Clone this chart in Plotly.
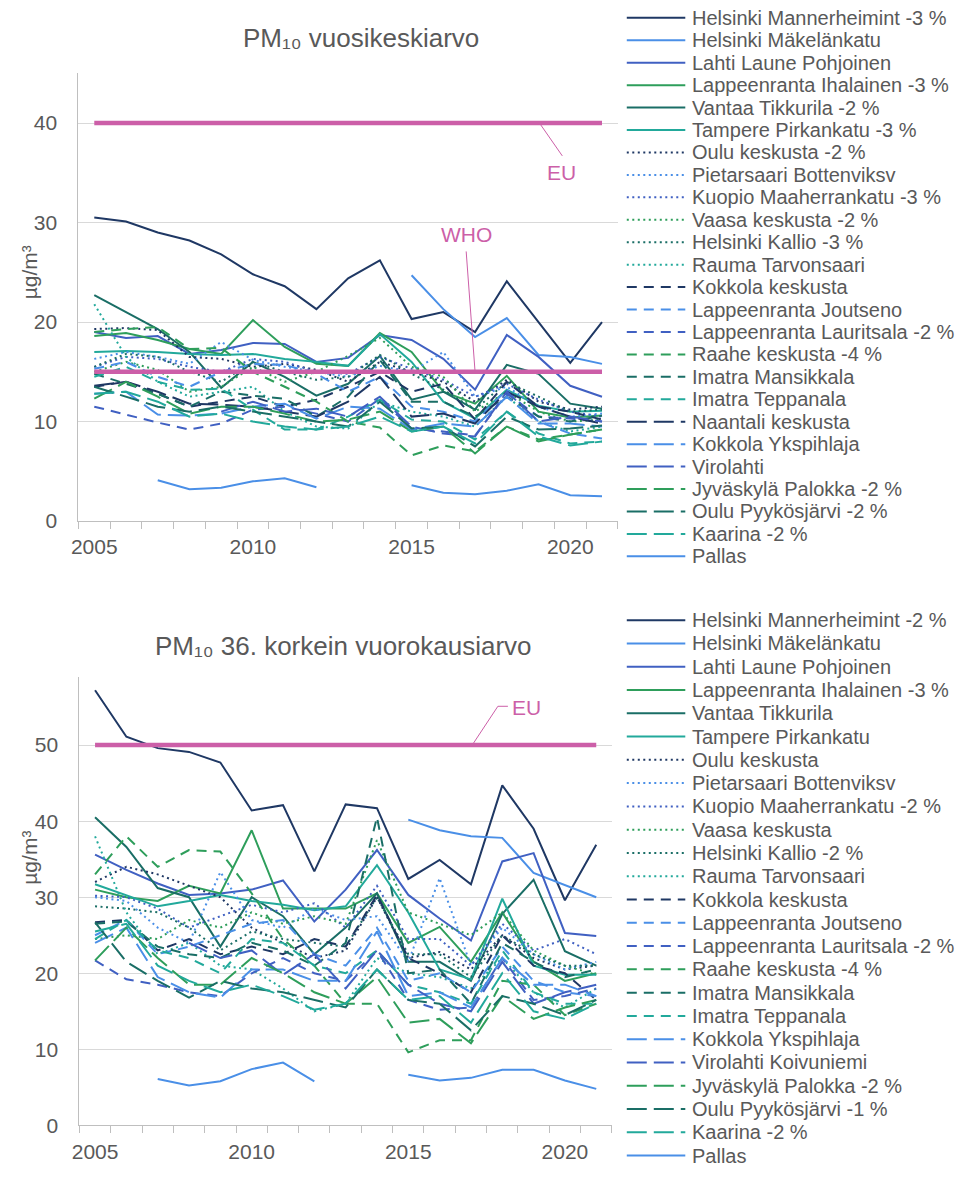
import plotly.graph_objects as go

W, H = 957, 1178
years = list(range(2005, 2022))
N = None

# ---------------- PM10 annual mean (top chart) ----------------
a_hel_mannerheimint = [30.5, 30.1, 29.0, 28.2, 26.8, 24.8, 23.6, 21.3, 24.4, 26.2, 20.3, 21.0, 19.0, 24.1, 20.0, 15.9, 20.0]
a_hel_makelankatu = [N, N, N, N, N, N, N, N, N, N, 24.7, 21.3, 18.5, 20.4, 16.7, 16.5, 15.8]
a_lahti = [19.0, 18.4, 18.6, 16.8, 17.2, 17.9, 17.8, 16.0, 16.4, 18.7, 18.2, 16.3, 13.2, 18.7, 16.5, 13.6, 12.5]
a_lpr_ihalainen = [18.6, 18.9, 18.2, 17.3, 16.8, 20.2, 17.5, 15.8, 15.6, 18.9, 17.0, 13.0, 11.8, 14.6, 11.0, 10.4, 10.6]
a_vantaa = [22.7, 21.0, 19.3, 17.0, 13.4, 16.0, 14.5, 12.6, 13.8, 16.6, 12.2, 13.0, 11.2, 15.7, 14.8, 11.8, 11.3]
a_tampere = [17.0, 17.1, 17.0, 16.8, 16.7, 16.8, 16.3, 16.0, 15.6, 18.8, 16.0, 12.0, 10.3, 13.2, 11.6, 11.0, 11.1]
a_oulu = [19.3, 19.4, 19.2, 16.5, 16.3, 15.5, 15.8, 15.2, 14.0, 16.0, 15.0, 14.0, 12.0, 14.2, 12.0, 11.2, 11.5]
a_pietarsaari = [16.3, 17.0, 16.5, 15.8, 18.0, 16.2, 15.5, 15.0, 14.5, 15.6, 15.0, 17.0, 12.5, 13.5, 11.5, 10.5, 10.8]
a_kuopio = [15.5, 16.5, 16.3, 15.5, 15.0, 16.3, 16.0, 15.0, 14.8, 16.5, 15.3, 14.2, 12.5, 13.8, 12.2, 11.0, 10.5]
a_vaasa = [15.0, 16.0, 15.2, 13.0, 13.5, 15.5, 14.0, 15.0, 16.6, 18.4, 15.5, 14.5, 11.0, 13.0, 11.0, 10.0, 10.2]
a_hel_kallio = [15.5, 16.8, 16.5, 15.0, 14.0, 16.0, 15.0, 14.2, 14.5, 16.7, 14.8, 13.2, 11.2, 14.0, 12.5, 11.0, 11.2]
a_rauma = [21.8, 16.5, 14.0, 12.5, 13.0, 13.5, 11.0, 9.5, 9.3, 12.0, 11.0, 10.5, 9.5, 12.5, 10.0, 9.0, 9.5]
a_kokkola = [13.5, 14.0, 12.8, 11.5, 12.0, 12.5, 11.5, 12.2, 13.5, 15.0, 13.0, 13.8, 10.2, 14.0, 11.5, 11.0, 10.2]
a_lpr_joutseno = [15.3, 16.0, 14.5, 13.5, 15.0, 15.8, 15.7, 14.8, 13.0, 14.5, 11.5, 11.0, 10.0, 13.2, 10.0, 8.8, 8.3]
a_lpr_lauritsala = [11.5, 10.7, 9.9, 9.2, 9.8, 11.2, 11.5, 10.8, 10.0, 12.3, 9.3, 9.0, 8.6, 12.8, 10.5, 10.3, 10.0]
a_raahe = [19.0, 19.3, 19.5, 17.3, 17.4, 15.0, 13.5, 12.0, 10.0, 9.4, 6.6, 7.6, 7.0, 9.5, 8.2, 8.7, 9.2]
a_imatra_mansikkala = [14.8, 13.8, 12.8, 11.5, 13.0, 12.6, 12.3, 10.5, 12.5, 16.2, 12.0, 12.0, 10.5, 12.5, 10.5, 10.0, 10.6]
a_imatra_teppanala = [14.5, 15.5, 14.0, 13.2, 13.3, 11.2, 9.2, 9.2, 10.5, 12.2, 10.2, 10.0, 8.2, 11.0, 8.8, 7.8, 8.0]
a_naantali = [13.6, 14.0, 13.0, 11.8, 11.7, 11.5, 11.0, 10.5, 12.0, 14.5, 10.5, 10.8, 9.8, 13.0, 11.5, 10.5, 9.8]
a_kokkola_ykspihlaja = [12.8, 13.0, 10.7, 10.6, 10.8, 11.5, 11.8, 10.3, 11.5, 11.3, 9.2, 9.8, 9.5, 12.5, 9.8, 9.8, 9.5]
a_virolahti = [N, N, N, N, 11.0, 12.0, 11.0, 11.3, 10.5, 12.5, 9.5, 8.8, 8.5, 13.0, 10.0, 10.5, 10.0]
a_jyvaskyla = [12.3, 14.0, 12.5, 10.8, 11.5, 11.5, 10.8, 10.0, 10.2, 11.0, 9.0, 9.5, 6.8, 9.5, 8.0, 8.7, 9.2]
a_oulu_pyykosjarvi = [13.5, 12.5, 11.5, 11.0, 11.5, 11.0, 10.5, 10.0, 9.5, 12.0, 9.3, 9.5, 7.5, 10.5, 9.2, 9.3, 9.6]
a_kaarina = [12.8, 13.0, 12.0, 10.5, 10.8, 10.0, 9.5, 9.2, 9.5, 10.5, 9.0, 9.5, 7.8, 11.0, 8.5, 7.6, 8.0]
a_pallas = [N, N, 4.1, 3.2, 3.35, 4.0, 4.3, 3.4, N, N, 3.6, 2.85, 2.7, 3.05, 3.7, 2.6, 2.5]

a_names = ["Helsinki Mannerheimint -3 %", "Helsinki Mäkelänkatu", "Lahti Laune Pohjoinen",
           "Lappeenranta Ihalainen -3 %", "Vantaa Tikkurila -2 %", "Tampere Pirkankatu -3 %",
           "Oulu keskusta -2 %", "Pietarsaari Bottenviksv", "Kuopio Maaherrankatu -3 %",
           "Vaasa keskusta -2 %", "Helsinki Kallio -3 %", "Rauma Tarvonsaari",
           "Kokkola keskusta", "Lappeenranta Joutseno", "Lappeenranta Lauritsala -2 %",
           "Raahe keskusta -4 %", "Imatra Mansikkala", "Imatra Teppanala",
           "Naantali keskusta", "Kokkola Ykspihlaja", "Virolahti",
           "Jyväskylä Palokka -2 %", "Oulu Pyykösjärvi -2 %", "Kaarina -2 %", "Pallas"]
a_series = [a_hel_mannerheimint, a_hel_makelankatu, a_lahti, a_lpr_ihalainen, a_vantaa, a_tampere,
            a_oulu, a_pietarsaari, a_kuopio, a_vaasa, a_hel_kallio, a_rauma,
            a_kokkola, a_lpr_joutseno, a_lpr_lauritsala, a_raahe, a_imatra_mansikkala, a_imatra_teppanala,
            a_naantali, a_kokkola_ykspihlaja, a_virolahti, a_jyvaskyla, a_oulu_pyykosjarvi, a_kaarina,
            a_pallas]
a_eu_limit = 40
a_who_guideline = 15

# ---------------- PM10 36th highest daily value (bottom chart) ----------------
d_hel_mannerheimint = [57.2, 51.1, 49.6, 49.1, 47.7, 41.4, 42.1, 33.4, 42.2, 41.7, 32.4, 34.9, 31.7, 44.7, 39.0, 29.6, 36.9]
d_hel_makelankatu = [N, N, N, N, N, N, N, N, N, N, 40.2, 38.8, 38.0, 37.8, 33.2, 31.6, 30.0]
d_lahti = [35.6, 33.6, 31.8, 30.3, 30.5, 31.0, 32.2, 26.8, 31.0, 36.2, 30.3, 27.2, 24.3, 34.7, 35.8, 25.3, 24.9]
d_lpr_ihalainen = [31.0, 30.0, 29.5, 31.5, 30.5, 38.8, 28.5, 28.5, 28.5, 30.5, 24.0, 26.1, 21.5, 28.0, 21.5, 19.0, 20.0]
d_vantaa = [40.5, 36.6, 31.2, 30.0, 23.5, 30.0, 27.5, 22.5, 26.0, 30.5, 21.5, 21.5, 19.0, 27.8, 32.3, 22.9, 21.0]
d_tampere = [31.7, 30.2, 28.8, 29.5, 30.3, 29.5, 29.0, 28.3, 28.8, 34.2, 28.0, 20.5, 19.2, 29.8, 21.0, 19.8, 19.8]
d_oulu = [32.0, 34.0, 33.0, 31.5, 30.0, 26.0, 24.0, 22.0, 23.0, 30.0, 22.0, 22.8, 20.5, 25.0, 22.0, 20.5, 21.0]
d_pietarsaari = [30.0, 29.5, 26.0, 24.0, 33.3, 27.0, 26.0, 28.5, 27.0, 27.5, 21.5, 32.5, 21.0, 26.0, 22.5, 20.5, 21.5]
d_kuopio = [30.2, 30.0, 28.5, 26.0, 27.5, 29.0, 28.0, 29.2, 26.0, 31.5, 24.5, 24.5, 21.0, 26.5, 23.0, 24.5, 22.5]
d_vaasa = [24.5, 25.0, 24.5, 27.0, 26.0, 28.0, 26.5, 27.5, 26.5, 37.5, 28.0, 26.5, 25.0, 28.0, 23.0, 21.0, 19.8]
d_hel_kallio = [28.8, 28.5, 28.0, 26.0, 23.0, 25.5, 24.5, 24.0, 23.5, 30.0, 22.5, 22.5, 19.5, 25.0, 22.5, 21.0, 21.0]
d_rauma = [38.0, 28.0, 22.5, 24.0, 21.0, 20.5, 18.0, 15.0, 16.0, 22.0, 20.0, 19.5, 18.0, 22.0, 17.5, 15.5, 18.0]
d_kokkola = [26.7, 27.0, 23.0, 24.5, 22.5, 23.5, 22.5, 24.5, 23.5, 30.3, 22.0, 20.0, 17.5, 25.0, 21.0, 20.0, 16.5]
d_lpr_joutseno = [25.0, 27.0, 22.5, 23.5, 25.0, 26.5, 27.0, 22.5, 21.0, 26.0, 19.0, 20.0, 17.5, 23.5, 19.0, 17.5, 17.0]
d_lpr_lauritsala = [21.7, 19.2, 18.5, 17.5, 17.0, 20.0, 22.0, 20.0, 19.0, 23.0, 16.5, 15.2, 15.5, 22.0, 16.5, 17.0, 18.0]
d_raahe = [33.0, 38.0, 34.0, 36.2, 36.0, 30.5, 24.5, 21.0, 16.0, 16.0, 9.6, 11.2, 11.2, 19.0, 18.5, 14.5, 16.0]
d_imatra_mansikkala = [26.5, 26.8, 23.5, 22.5, 22.0, 24.0, 23.0, 21.0, 24.0, 40.5, 20.0, 20.5, 16.0, 24.0, 21.5, 19.5, 20.5]
d_imatra_teppanala = [24.5, 27.0, 23.0, 22.0, 20.0, 24.5, 24.0, 21.0, 20.0, 23.0, 18.5, 17.5, 16.0, 23.0, 17.5, 16.0, 16.0]
d_kokkola_ykspihlaja = [24.0, 26.0, 19.5, 17.5, 16.8, 20.5, 20.5, 19.0, 19.0, 25.5, 17.0, 17.5, 15.5, 22.0, 18.5, 18.5, 17.0]
d_virolahti = [N, N, N, 24.0, 22.0, 23.0, 19.8, 22.5, 18.0, 23.0, 18.5, 16.0, 15.0, 21.5, 16.0, 17.5, 18.5]
d_jyvaskyla = [21.7, 26.0, 22.0, 18.5, 18.5, 22.0, 20.0, 17.5, 16.0, 19.5, 13.5, 14.0, 10.8, 17.0, 14.0, 15.5, 16.5]
d_oulu_pyykosjarvi = [26.7, 21.5, 19.0, 16.8, 19.0, 18.0, 17.5, 16.5, 15.5, 20.5, 16.5, 16.0, 12.5, 17.0, 16.0, 14.5, 16.5]
d_kaarina = [25.5, 26.5, 21.0, 19.0, 17.5, 18.5, 17.0, 15.2, 16.0, 20.5, 16.5, 17.0, 13.5, 20.0, 15.0, 14.0, 16.0]
d_pallas = [N, N, 6.1, 5.25, 5.8, 7.4, 8.25, 5.8, N, N, 6.65, 5.9, 6.25, 7.3, 7.3, 5.9, 4.8]

d_names = ["Helsinki Mannerheimint -2 %", "Helsinki Mäkelänkatu", "Lahti Laune Pohjoinen",
           "Lappeenranta Ihalainen -3 %", "Vantaa Tikkurila", "Tampere Pirkankatu",
           "Oulu keskusta", "Pietarsaari Bottenviksv", "Kuopio Maaherrankatu -2 %",
           "Vaasa keskusta", "Helsinki Kallio -2 %", "Rauma Tarvonsaari",
           "Kokkola keskusta", "Lappeenranta Joutseno", "Lappeenranta Lauritsala -2 %",
           "Raahe keskusta -4 %", "Imatra Mansikkala", "Imatra Teppanala",
           "Kokkola Ykspihlaja", "Virolahti Koivuniemi", "Jyväskylä Palokka -2 %",
           "Oulu Pyykösjärvi -1 %", "Kaarina -2 %", "Pallas"]
d_series = [d_hel_mannerheimint, d_hel_makelankatu, d_lahti, d_lpr_ihalainen, d_vantaa, d_tampere,
            d_oulu, d_pietarsaari, d_kuopio, d_vaasa, d_hel_kallio, d_rauma,
            d_kokkola, d_lpr_joutseno, d_lpr_lauritsala, d_raahe, d_imatra_mansikkala, d_imatra_teppanala,
            d_kokkola_ykspihlaja, d_virolahti, d_jyvaskyla, d_oulu_pyykosjarvi, d_kaarina,
            d_pallas]
d_eu_limit = 50

# ---------------- styles ----------------
NAVY, LBLUE, INDIGO, GREEN, DTEAL, TEAL = "#1F3864", "#4A8FE7", "#4060C2", "#2E9E5B", "#1A6E66", "#22A99B"
PINK = "#CC5FA8"
GRAY = "#595959"
FONT = "Liberation Sans, Arial, sans-serif"
DASH = {"solid": "solid", "dot": "2px,3.5px", "dash": "10px,7px", "long": "20px,7px"}
six = [NAVY, LBLUE, INDIGO, GREEN, DTEAL, TEAL]
a_styles = ([(c, "solid") for c in six] + [(c, "dot") for c in six] + [(c, "dash") for c in six]
            + [(c, "long") for c in six] + [(LBLUE, "solid")])
d_styles = ([(c, "solid") for c in six] + [(c, "dot") for c in six] + [(c, "dash") for c in six]
            + [(c, "long") for c in six[1:]] + [(LBLUE, "solid")])

fig = go.Figure()

def add_chart(series, names, styles, xa, ya):
    for vals, name, (col, dk) in zip(series, names, styles):
        fig.add_trace(go.Scatter(x=years, y=vals, name=name, mode="lines",
                                 line=dict(color=col, width=2, dash=DASH[dk]),
                                 xaxis=xa, yaxis=ya, showlegend=False))

add_chart(a_series, a_names, a_styles, "x", "y")
add_chart(d_series, d_names, d_styles, "x2", "y2")

# limit lines
for lim, xa, ya, nm in [(a_eu_limit, "x", "y", "EU"), (a_who_guideline, "x", "y", "WHO"),
                        (d_eu_limit, "x2", "y2", "EU")]:
    fig.add_trace(go.Scatter(x=years, y=[lim] * len(years), name=nm, mode="lines",
                             line=dict(color=PINK, width=4.5), xaxis=xa, yaxis=ya, showlegend=False))

def px_x(p):
    return p / W

def px_y(p):
    return 1 - p / H

shapes = []
annotations = []

# manual legends (sample line + text)
def add_legend(names, styles, y0, step):
    for i, (name, (col, dk)) in enumerate(zip(names, styles)):
        yy = px_y(y0 + i * step)
        shapes.append(dict(type="line", xref="paper", yref="paper", x0=px_x(624), x1=px_x(683),
                           y0=yy, y1=yy, line=dict(color=col, width=2, dash=DASH[dk])))
        annotations.append(dict(text=name, xref="paper", yref="paper", x=px_x(688), y=yy,
                                xanchor="left", yanchor="middle", showarrow=False,
                                font=dict(size=20, color=GRAY, family=FONT)))

add_legend(a_names, a_styles, 18, 22.65)
add_legend(d_names, d_styles, 626, 23.5)

# titles
annotations.append(dict(text="PM₁₀ vuosikeskiarvo", xref="paper", yref="paper",
                        x=px_x(356), y=px_y(38), xanchor="center", yanchor="middle", showarrow=False,
                        font=dict(size=26, color=GRAY, family=FONT)))
annotations.append(dict(text="PM₁₀ 36. korkein vuorokausiarvo", xref="paper", yref="paper",
                        x=px_x(338), y=px_y(652), xanchor="center", yanchor="middle", showarrow=False,
                        font=dict(size=26, color=GRAY, family=FONT)))
# y axis titles
for yc in (275, 866):
    annotations.append(dict(text="µg/m³", xref="paper", yref="paper", x=px_x(22), y=px_y(yc),
                            xanchor="center", yanchor="middle", textangle=-90, showarrow=False,
                            font=dict(size=21, color=GRAY, family=FONT)))

# limit labels with leader lines
annotations.append(dict(text="EU", xref="x", yref="y", x=2019.72, y=35.0, showarrow=False,
                        xanchor="center", yanchor="middle", font=dict(size=21, color=PINK, family=FONT)))
shapes.append(dict(type="line", xref="x", yref="y", x0=2019.03, y0=a_eu_limit, x1=2019.75, y1=36.7,
                   line=dict(color=PINK, width=1)))
annotations.append(dict(text="WHO", xref="x", yref="y", x=2016.72, y=28.8, showarrow=False,
                        xanchor="center", yanchor="middle", font=dict(size=21, color=PINK, family=FONT)))
shapes.append(dict(type="line", xref="x", yref="y", x0=2016.72, y0=27.1, x1=2017.0, y1=a_who_guideline,
                   line=dict(color=PINK, width=1)))
annotations.append(dict(text="EU", xref="x2", yref="y2", x=2018.25, y=54.9, showarrow=False,
                        xanchor="left", yanchor="middle", font=dict(size=21, color=PINK, family=FONT)))
shapes.append(dict(type="path", xref="x2", yref="y2",
                   path=f"M 2017.04,{d_eu_limit} L 2017.86,55.1 L 2018.18,55.1",
                   line=dict(color=PINK, width=1)))

axis_common = dict(showline=True, linecolor="#BFBFBF", linewidth=1, zeroline=False,
                   tickfont=dict(size=21, color=GRAY, family=FONT))
xcommon = dict(axis_common, range=[2004.5, 2021.5], tickmode="array", tickvals=[2005, 2010, 2015, 2020],
               ticks="", showgrid=False, ticklabelstandoff=7,
               minor=dict(tickmode="linear", tick0=2004.5, dtick=1, ticks="outside", ticklen=7,
                          tickcolor="#BFBFBF", tickwidth=1, showgrid=False))
ycommon = dict(axis_common, showgrid=True, gridcolor="#D9D9D9", gridwidth=1, ticks="",
               ticklabelstandoff=16)

fig.update_layout(
    width=W, height=H, margin=dict(l=0, r=0, t=0, b=0),
    paper_bgcolor="white", plot_bgcolor="white", showlegend=False,
    font=dict(family=FONT, color=GRAY),
    xaxis=dict(xcommon, domain=[71 / W, 615 / W], anchor="y"),
    yaxis=dict(ycommon, domain=[1 - 526 / H, 1 - 74 / H], range=[0, 45], tickvals=[0, 10, 20, 30, 40],
               anchor="x"),
    xaxis2=dict(xcommon, domain=[72 / W, 609 / W], anchor="y2"),
    yaxis2=dict(ycommon, domain=[1 - 1136 / H, 1 - 683 / H], range=[0, 59],
                tickvals=[0, 10, 20, 30, 40, 50], anchor="x2"),
    shapes=shapes, annotations=annotations,
)

fig.write_html("out.html", config={"displayModeBar": False},
               post_script="document.body.style.margin='0';")
